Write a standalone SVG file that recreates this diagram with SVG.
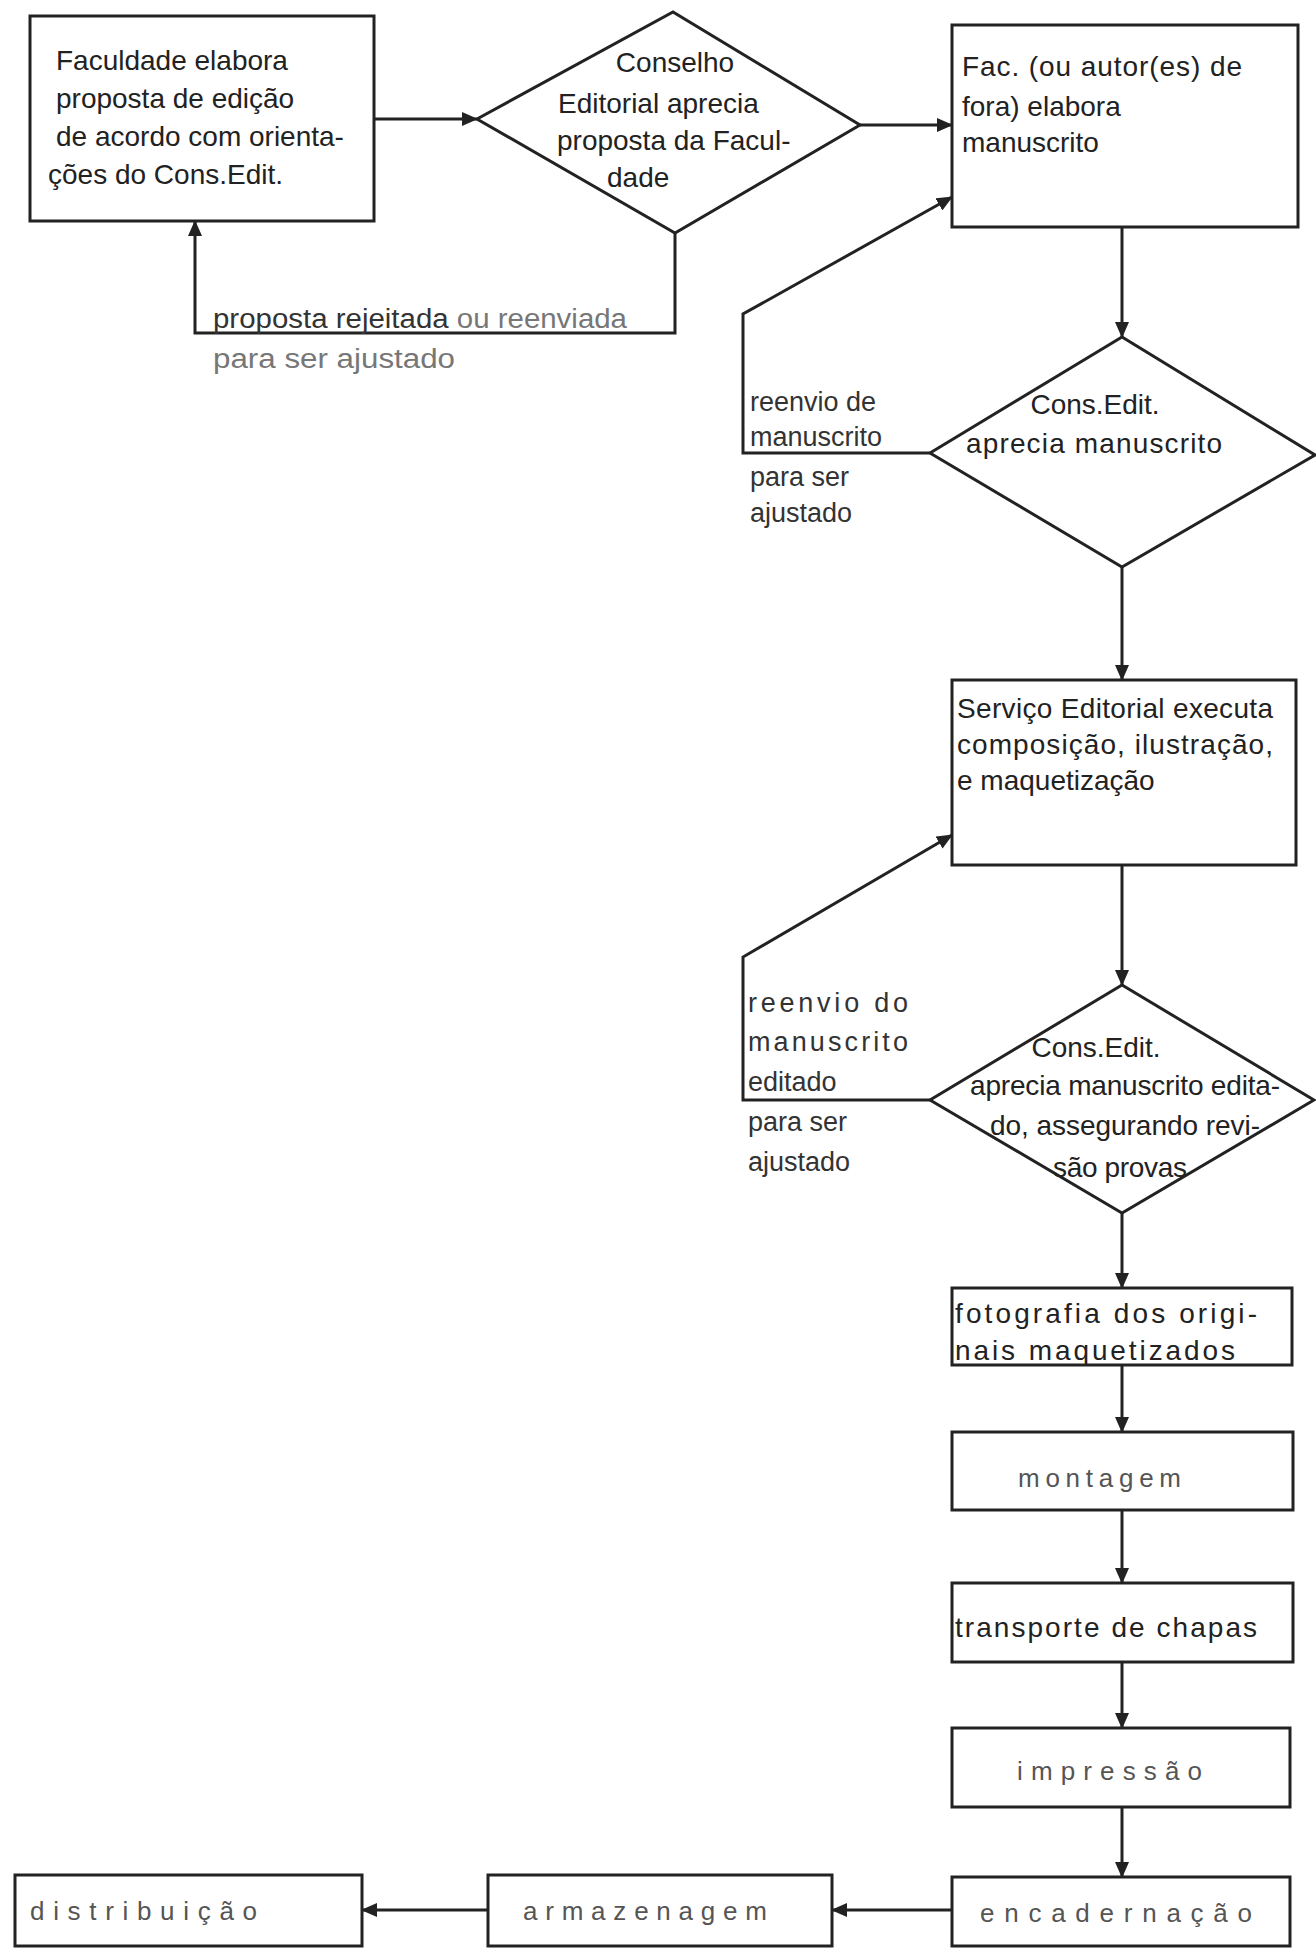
<svg xmlns="http://www.w3.org/2000/svg" width="1316" height="1948" viewBox="0 0 1316 1948">
<defs>
<marker id="ah" markerUnits="userSpaceOnUse" markerWidth="16" markerHeight="14" refX="15" refY="7" orient="auto">
<path d="M0,0 L16,7 L0,14 z" fill="#222"/>
</marker>
<style>
.shape{fill:#fff;stroke:#222;stroke-width:3}
.conn{fill:none;stroke:#222;stroke-width:3;marker-end:url(#ah)}
.t{font-family:"Liberation Sans",Arial,sans-serif;font-size:28px;fill:#222}
.lbl{font-family:"Liberation Sans",Arial,sans-serif;font-size:27px;fill:#333}
.faint{fill:#777}
.typ{font-family:"Liberation Sans",Arial,sans-serif;font-size:26px;fill:#555}
</style>
</defs>
<rect width="1316" height="1948" fill="#fff"/>

<g id="connectors">
<path class="conn" d="M374,119 L477,119"/>
<path class="conn" d="M860,125 L952,125"/>
<path class="conn" d="M675,233 L675,333 L195,333 L195,221"/>
<path class="conn" d="M1122,227 L1122,337"/>
<path class="conn" d="M930,453 L743,453 L743,314 L952,197"/>
<path class="conn" d="M1122,567 L1122,680"/>
<path class="conn" d="M1122,865 L1122,985"/>
<path class="conn" d="M930,1100 L743,1100 L743,957 L952,835"/>
<path class="conn" d="M1122,1213 L1122,1288"/>
<path class="conn" d="M1122,1365 L1122,1432"/>
<path class="conn" d="M1122,1510 L1122,1583"/>
<path class="conn" d="M1122,1662 L1122,1728"/>
<path class="conn" d="M1122,1807 L1122,1877"/>
<path class="conn" d="M952,1910 L832,1910"/>
<path class="conn" d="M488,1910 L362,1910"/>
</g>

<g id="labels">
<text class="lbl" x="213" y="328" textLength="414" lengthAdjust="spacingAndGlyphs">proposta rejeitada <tspan class="faint">ou reenviada</tspan></text>
<text class="lbl faint" x="213" y="368" textLength="242" lengthAdjust="spacingAndGlyphs">para ser ajustado</text>
<text class="lbl" x="750" y="411">reenvio de</text>
<text class="lbl" x="750" y="446">manuscrito</text>
<text class="lbl" x="750" y="486">para ser</text>
<text class="lbl" x="750" y="522">ajustado</text>
<text class="lbl" x="748" y="1012" textLength="160">reenvio do</text>
<text class="lbl" x="748" y="1051" textLength="160">manuscrito</text>
<text class="lbl" x="748" y="1091">editado</text>
<text class="lbl" x="748" y="1131">para ser</text>
<text class="lbl" x="748" y="1171">ajustado</text>
</g>

<g id="n1">
<rect class="shape" x="30" y="16" width="344" height="205"/>
<text class="t" x="56" y="70">Faculdade elabora</text>
<text class="t" x="56" y="108">proposta de edição</text>
<text class="t" x="56" y="146">de acordo com orienta-</text>
<text class="t" x="48" y="184">ções do Cons.Edit.</text>
</g>

<g id="n2">
<polygon class="shape" points="477,119 673,12 860,125 675,233"/>
<text class="t" x="675" y="72" text-anchor="middle">Conselho</text>
<text class="t" x="558" y="113">Editorial aprecia</text>
<text class="t" x="557" y="150">proposta da Facul-</text>
<text class="t" x="607" y="187">dade</text>
</g>

<g id="n3">
<rect class="shape" x="952" y="25" width="346" height="202"/>
<text class="t" x="962" y="76" textLength="280">Fac. (ou autor(es) de</text>
<text class="t" x="962" y="116">fora) elabora</text>
<text class="t" x="962" y="152">manuscrito</text>
</g>

<g id="n4">
<polygon class="shape" points="930,453 1122,337 1315,455 1122,567"/>
<text class="t" x="1095" y="414" text-anchor="middle">Cons.Edit.</text>
<text class="t" x="966" y="453" textLength="256">aprecia manuscrito</text>
</g>

<g id="n5">
<rect class="shape" x="952" y="680" width="344" height="185"/>
<text class="t" x="957" y="718" textLength="316">Serviço Editorial executa</text>
<text class="t" x="957" y="754" textLength="316">composição, ilustração,</text>
<text class="t" x="957" y="790">e maquetização</text>
</g>

<g id="n6">
<polygon class="shape" points="930,1100 1122,985 1314,1100 1122,1213"/>
<text class="t" x="1096" y="1057" text-anchor="middle">Cons.Edit.</text>
<text class="t" x="970" y="1095" textLength="310">aprecia manuscrito edita-</text>
<text class="t" x="990" y="1135" textLength="270">do, assegurando revi-</text>
<text class="t" x="1053" y="1177" textLength="134">são provas</text>
</g>

<g id="n7">
<rect class="shape" x="952" y="1288" width="340" height="77"/>
<text class="t" x="955" y="1323" textLength="302">fotografia dos origi-</text>
<text class="t" x="955" y="1360" textLength="280">nais maquetizados</text>
</g>

<g id="n8">
<rect class="shape" x="952" y="1432" width="341" height="78"/>
<text class="typ" x="1018" y="1487" textLength="163">montagem</text>
</g>

<g id="n9">
<rect class="shape" x="952" y="1583" width="341" height="79"/>
<text class="t" x="955" y="1637" textLength="302">transporte de chapas</text>
</g>

<g id="n10">
<rect class="shape" x="952" y="1728" width="338" height="79"/>
<text class="typ" x="1017" y="1780" textLength="185">impressão</text>
</g>

<g id="n11">
<rect class="shape" x="952" y="1877" width="338" height="69"/>
<text class="typ" x="980" y="1922" textLength="272">encadernação</text>
</g>

<g id="n12">
<rect class="shape" x="488" y="1875" width="344" height="71"/>
<text class="typ" x="523" y="1920" textLength="244">armazenagem</text>
</g>

<g id="n13">
<rect class="shape" x="15" y="1875" width="347" height="71"/>
<text class="typ" x="30" y="1920" textLength="227">distribuição</text>
</g>
</svg>
